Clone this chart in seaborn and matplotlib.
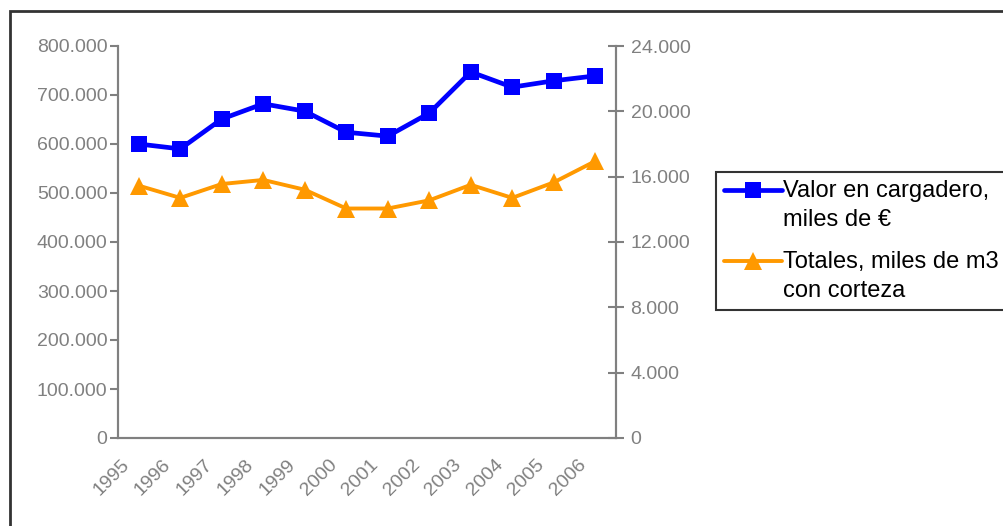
import numpy as np
import pandas as pd
import matplotlib
matplotlib.use("Agg")
import matplotlib.pyplot as plt
import matplotlib.transforms as mtransforms
from matplotlib.lines import Line2D
from matplotlib.patches import Rectangle
from matplotlib.legend_handler import HandlerLine2D
import seaborn as sns

# data
years = ["1995", "1996", "1997", "1998", "1999", "2000",
         "2001", "2002", "2003", "2004", "2005", "2006"]
valor = [600000, 590000, 651000, 682000, 667000, 624000,
         616000, 663000, 747000, 716000, 729000, 739000]
totales = [15450, 14700, 15550, 15800, 15200, 14050,
           14050, 14550, 15500, 14700, 15650, 16950]

left_ticks = [0, 100000, 200000, 300000, 400000, 500000, 600000, 700000, 800000]
left_labels = ["0", "100.000", "200.000", "300.000", "400.000",
               "500.000", "600.000", "700.000", "800.000"]
right_ticks = [0, 4000, 8000, 12000, 16000, 20000, 24000]
right_labels = ["0", "4.000", "8.000", "12.000", "16.000", "20.000", "24.000"]

label_valor = "Valor en cargadero,\nmiles de €"
label_totales = "Totales, miles de m3\ncon corteza"

df = pd.DataFrame({"pos": np.arange(len(years)), "valor": valor, "totales": totales})

sns.set_style("white")
plt.rcParams["font.family"] = ["Liberation Sans", "DejaVu Sans"]

BLUE = "#0000ff"
ORANGE = "#ff9900"
GREY = "#808080"
LEG_FS = 17


class FirstLineHandler(HandlerLine2D):
    # put the legend key next to the first line of a two-line label
    def create_artists(self, legend, orig_handle, xdescent, ydescent,
                       width, height, fontsize, trans):
        up = mtransforms.Affine2D().translate(0, 0.68 * fontsize) + trans
        return super().create_artists(legend, orig_handle, xdescent, ydescent,
                                      width, height, fontsize, up)


fig = plt.figure(figsize=(10.04, 5.26), dpi=100)
ax = fig.add_axes([118 / 1004, 88 / 526, 498 / 1004, 392 / 526])
ax2 = ax.twinx()

sns.lineplot(data=df, x="pos", y="valor", ax=ax, color=BLUE, lw=3.4,
             marker="s", markersize=12, markeredgewidth=0)
sns.lineplot(data=df, x="pos", y="totales", ax=ax2, color=ORANGE, lw=2.8,
             marker="^", markersize=12.5, markeredgewidth=0)

ax.set_xlim(-0.5, len(years) - 0.5)
ax.set_ylim(0, 800000)
ax2.set_ylim(0, 24000)

ax.set_yticks(left_ticks)
ax.set_yticklabels(left_labels)
ax2.set_yticks(right_ticks)
ax2.set_yticklabels(right_labels)

# category labels in the middle, tick marks on the boundaries
ax.set_xticks(np.arange(len(years)))
ax.set_xticklabels(years, rotation=45, ha="right")
ax.set_xticks(np.arange(-0.5, len(years)), minor=True)
ax.tick_params(axis="x", which="major", length=0, pad=13, labelsize=14, labelcolor=GREY)
ax.tick_params(axis="x", which="minor", length=6, width=1.5, color=GREY, direction="out")
shift = mtransforms.ScaledTranslation(-6 / 100, 0, fig.dpi_scale_trans)
for lbl in ax.get_xticklabels():
    lbl.set_transform(lbl.get_transform() + shift)

ax.tick_params(axis="y", length=6, width=1.5, color=GREY, direction="out",
               labelsize=14, labelcolor=GREY, pad=1.5, left=True)
ax2.tick_params(axis="y", length=11, width=1.5, color=GREY, direction="inout",
                labelsize=14, labelcolor=GREY, pad=5, right=True)

for a in (ax, ax2):
    a.set_xlabel("")
    a.set_ylabel("")
    a.grid(False)
    a.spines["top"].set_visible(False)
    for s in ("left", "right", "bottom"):
        a.spines[s].set_color(GREY)
        a.spines[s].set_linewidth(1.5)

handles = [
    Line2D([], [], color=BLUE, lw=3.4, marker="s", markersize=12, markeredgewidth=0),
    Line2D([], [], color=ORANGE, lw=2.8, marker="^", markersize=12.5, markeredgewidth=0),
]
leg = fig.legend(handles, [label_valor, label_totales],
                 loc="upper left", bbox_to_anchor=(716 / 1004, 1 - 172 / 526),
                 fontsize=LEG_FS, frameon=True, fancybox=False, handlelength=2.45,
                 handletextpad=0.02, borderpad=0.35, labelspacing=0.85,
                 borderaxespad=0,
                 handler_map={Line2D: FirstLineHandler()})
leg.get_frame().set_edgecolor("black")
leg.get_frame().set_linewidth(1.5)
for t in leg.get_texts():
    t.set_color("black")
    t.set_linespacing(1.4)

# outer chart border
fig.patches.append(Rectangle((10 / 1004, -0.1), 1.2, 1 - 11 / 526 + 0.1,
                             transform=fig.transFigure, fill=False,
                             edgecolor="#333333", lw=2))

fig.savefig("out.png", dpi=100)
